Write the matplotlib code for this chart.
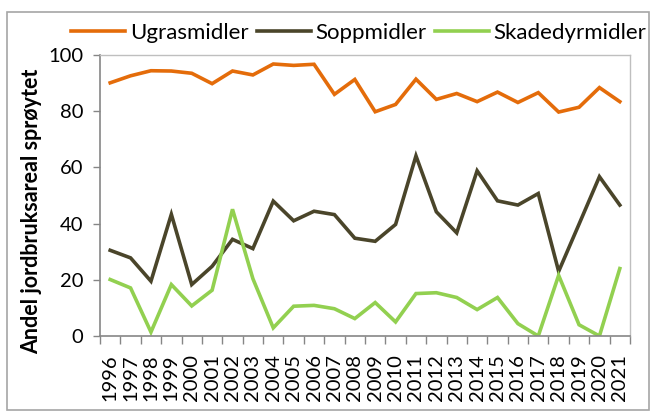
import matplotlib
matplotlib.use("Agg")
import matplotlib.pyplot as plt
from matplotlib.patches import Rectangle
import numpy as np

years = [str(y) for y in range(1996, 2022)]
ugras = [90.1, 92.6, 94.4, 94.3, 93.5, 89.8, 94.3, 92.9, 96.8, 96.3, 96.7, 86.0, 91.3,
         79.8, 82.4, 91.4, 84.2, 86.3, 83.4, 86.8, 83.1, 86.6, 79.7, 81.4, 88.4, 83.4]
sopp = [30.5, 27.8, 19.5, 43.3, 18.3, 24.8, 34.4, 31.1, 48.0, 41.0, 44.4, 43.2, 34.8,
        33.7, 39.7, 64.1, 44.2, 36.7, 58.8, 48.1, 46.6, 50.7, 23.0, 39.8, 56.7, 46.6]
skade = [20.1, 17.1, 1.4, 18.3, 10.7, 16.3, 45.1, 20.4, 2.9, 10.6, 10.9, 9.7, 6.2,
         11.9, 5.0, 15.1, 15.4, 13.7, 9.4, 13.7, 4.4, 0.0, 21.6, 4.0, 0.0, 24.0]
series_names = ["Ugrasmidler", "Soppmidler", "Skadedyrmidler"]
colors = ["#E46C0A", "#4A452A", "#92D050"]
ylabel = "Andel jordbruksareal sprøytet"

plt.rcParams['font.family'] = ['Lato', 'DejaVu Sans']

fig = plt.figure(figsize=(6.52, 4.13), dpi=100)
ax = fig.add_axes([100/652, 1-336/413, 530/652, 281/413])

x = np.arange(len(years))
for vals, name, c in zip([ugras, sopp, skade], series_names, colors):
    ax.plot(x, vals, color=c, lw=2.6, label=name, solid_joinstyle='miter')

ax.set_xlim(-0.5, len(years)-0.5)
ax.set_ylim(0, 100)
ax.set_yticks(range(0, 101, 20))
ax.set_xticks(x)
ax.set_xticklabels(years, rotation=90, fontsize=14.5)
ax.tick_params(axis='x', length=0, pad=13)
ax.set_xticks(np.arange(-0.5, len(years), 1), minor=True)
ax.tick_params(axis='x', which='minor', length=5.8, color='#868686', width=1)
ax.tick_params(axis='y', labelsize=14.5, length=5, color='#868686', width=1, pad=7)
for s in ['left', 'bottom']:
    ax.spines[s].set_color('#868686')
    ax.spines[s].set_linewidth(1.2)
for s in ['top', 'right']:
    ax.spines[s].set_color('#BFBFBF')
    ax.spines[s].set_linewidth(1.0)

ax.set_ylabel(ylabel, fontsize=15.5, fontweight='bold')
ax.yaxis.set_label_coords(-0.109, 0.445)

fig.legend(loc='center', bbox_to_anchor=(359/652, 1-33/413), ncol=3, frameon=False,
           fontsize=16, handlelength=2.43, handletextpad=0.22, columnspacing=0.36,
           borderaxespad=0, borderpad=0)

fig.patches.append(Rectangle((7/652, 3/413), 642/652, 398/413, transform=fig.transFigure,
                             fill=False, edgecolor='#A6A6A6', lw=1.2))

fig.savefig("out.png", dpi=100)
